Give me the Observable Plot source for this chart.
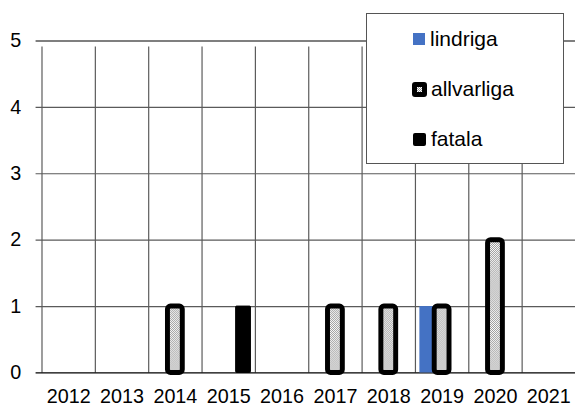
<!DOCTYPE html>
<html>
<head>
<meta charset="utf-8">
<script src="https://cdn.jsdelivr.net/npm/d3@7"></script>
<script src="https://cdn.jsdelivr.net/npm/@observablehq/plot@0.6"></script>
<style>
  html, body { margin: 0; padding: 0; overflow: hidden; background: #fff; }
  #wrap { position: relative; width: 575px; height: 412px; overflow: hidden; font-family: "Liberation Sans", Arial, sans-serif; }
  #legend { position: absolute; left: 366px; top: 13px; width: 196px; height: 149px; border: 1px solid #555; background: #fff; box-sizing: content-box; }
  .row { position: absolute; left: 45px; display: flex; align-items: center; font-size: 21px; color: #000; height: 24px; }
  .sw { display: inline-block; margin-right: 4px; box-sizing: border-box; }
</style>
</head>
<body>
<svg width="0" height="0" style="position:absolute">
  <defs>
    <pattern id="checker" width="2" height="2" patternUnits="userSpaceOnUse">
      <rect width="2" height="2" fill="#ffffff"/>
      <rect width="1" height="1" fill="#9a9a9a"/>
      <rect x="1" y="1" width="1" height="1" fill="#9a9a9a"/>
    </pattern>
  </defs>
</svg>
<div id="wrap"></div>
<script>
const years = ["2012","2013","2014","2015","2016","2017","2018","2019","2020","2021"];
const lindriga   = [0,0,0,0,0,0,0,1,0,0];
const allvarliga = [0,0,1,0,0,1,1,1,2,0];
const fatala     = [0,0,0,1,0,0,0,0,0,0];
const yTicks = [0,1,2,3,4,5];
const seriesNames = ["lindriga","allvarliga","fatala"];
const seriesColors = ["#4472C4","url(#checker)","#000000"];

const W = 582, H = 412, ml = 42, mr = 0, mt = 41, mb = 35;
const bw = (W - ml - mr) / years.length;
const barW = 15;
const c = bw / 2;

function rows(vals) {
  return years.map((y, i) => ({year: y, value: vals[i]})).filter(d => d.value > 0);
}

const plot = Plot.plot({
  width: W, height: H,
  marginLeft: ml, marginRight: mr, marginTop: mt, marginBottom: mb,
  style: {fontFamily: "'Liberation Sans', Arial, sans-serif", fontSize: "20px", color: "#000", background: "transparent"},
  x: {type: "band", domain: years, padding: 0, tickSize: 0, tickPadding: 16, label: null},
  y: {domain: [0, 5], ticks: yTicks, tickFormat: d => String(d), tickSize: 0, tickPadding: 21, label: null},
  marks: [
    Plot.ruleY(yTicks.filter(t => t > 0 && t < 5), {y: d => d, stroke: "#5a5a5a", strokeWidth: 1.2, insetLeft: -6}),
    Plot.ruleX(years, {x: d => d, dx: -c, y1: () => 0, y2: () => 5, stroke: "#5a5a5a", strokeWidth: 1.2, insetBottom: -6}),
    Plot.ruleY([5], {y: d => d, stroke: "#000", strokeWidth: 1.2, insetLeft: -6}),
    Plot.ruleY([0], {y: d => d, stroke: "#000", strokeWidth: 1.2, insetLeft: -6}),
    Plot.barY(rows(lindriga), {x: "year", y: "value", fill: seriesColors[0],
      insetLeft: c - 1.5 * barW, insetRight: bw - (c - 0.5 * barW)}),
    Plot.barY(rows(fatala), {x: "year", y: "value", fill: seriesColors[2], stroke: "#000", strokeWidth: 1, rx: 1,
      insetLeft: c + 0.5 * barW, insetRight: bw - (c + 1.5 * barW)}),
    Plot.barY(rows(allvarliga), {x: "year", y: "value", fill: seriesColors[1], stroke: "#000", strokeWidth: 5, rx: 3,
      insetLeft: c - 0.5 * barW, insetRight: c - 0.5 * barW})
  ]
});

const wrap = document.getElementById("wrap");
wrap.appendChild(plot);

// legend
const legend = document.createElement("div");
legend.id = "legend";
const swStyles = [
  "width:12px;height:12px;background:#4472C4;margin-left:1px;margin-right:5px;",
  "width:15px;height:15px;background:#000;border-radius:3px;border:5px solid #000;",
  "width:13px;height:13px;background:#000;border-radius:2px;margin-left:1px;margin-right:5px;"
];
const rowTops = [13, 63, 113];
seriesNames.forEach((name, i) => {
  const r = document.createElement("div");
  r.className = "row";
  r.style.top = rowTops[i] + "px";
  const sw = document.createElement("span");
  sw.className = "sw";
  sw.style.cssText = swStyles[i];
  if (i === 1) {
    const inner = document.createElement("span");
    inner.style.cssText = "display:block;width:5px;height:5px;background:repeating-conic-gradient(#9a9a9a 0% 25%, #fff 0% 50%) 0 0/2px 2px;";
    sw.appendChild(inner);
  }
  r.appendChild(sw);
  const t = document.createElement("span");
  t.textContent = name;
  r.appendChild(t);
  legend.appendChild(r);
});
wrap.appendChild(legend);
</script>
</body>
</html>
